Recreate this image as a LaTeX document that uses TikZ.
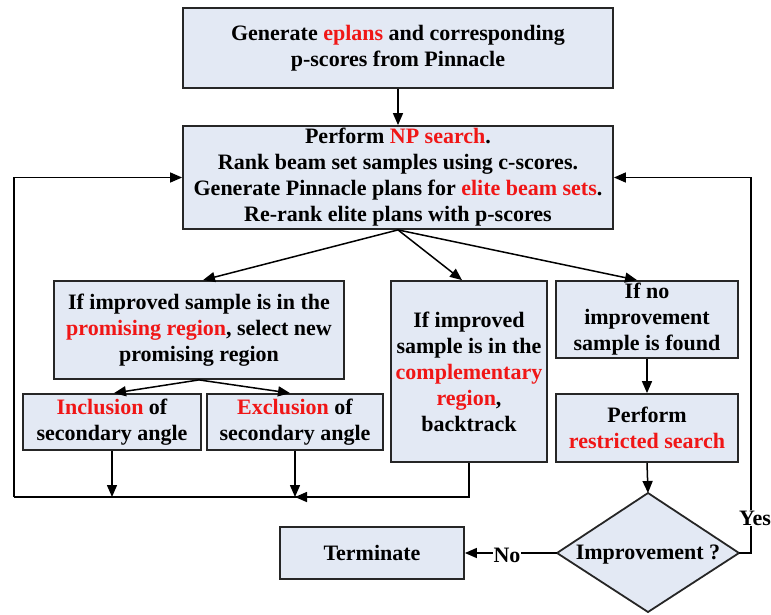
\documentclass[tikz,border=0pt]{standalone}
\usepackage{fontspec}
\setmainfont{Liberation Serif}
\usetikzlibrary{arrows.meta}
\definecolor{boxfill}{RGB}{227,233,244}
\definecolor{hl}{RGB}{240,22,22}
\newcommand{\hlt}[1]{\textcolor{hl}{#1}}
\begin{document}
\begin{tikzpicture}[x=1pt,y=-1pt,
  every node/.style={font=\fontsize{22}{26}\selectfont\bfseries},
  procbox/.style={draw=black!85, line width=1.8pt, fill=boxfill, inner sep=0pt, align=center},
  conn/.style={line width=1.5pt, draw=black},
  arr/.style={conn, -{Triangle[length=12pt,width=10pt]}},
  lab/.style={fill=white, inner sep=1pt}]
\useasboundingbox (0,0) rectangle (771,614);

\node[procbox, minimum width=430pt, minimum height=80pt] (top) at (398,48)
  {Generate \hlt{eplans} and corresponding\\p-scores from Pinnacle};
\node[procbox, minimum width=430pt, minimum height=103pt] (np) at (398,177.5)
  {Perform \hlt{NP search}.\\Rank beam set samples using c-scores.\\Generate Pinnacle plans for \hlt{elite beam sets}.\\Re-rank elite plans with p-scores};
\node[procbox, minimum width=290pt, minimum height=98pt] (prom) at (199,330)
  {If improved sample is in the\\\hlt{promising region}, select new\\promising region};
\node[procbox, minimum width=178pt, minimum height=56pt] (incl) at (112,422)
  {\hlt{Inclusion} of\\secondary angle};
\node[procbox, minimum width=176pt, minimum height=56pt] (excl) at (295,422)
  {\hlt{Exclusion} of\\secondary angle};
\node[procbox, minimum width=156pt, minimum height=181pt] (comp) at (469,371.5)
  {If improved\\sample is in the\\\hlt{complementary}\\\hlt{region},\\backtrack};
\node[procbox, minimum width=182pt, minimum height=77pt] (noimp) at (647,319.5)
  {If no\\improvement\\sample is found};
\node[procbox, minimum width=182pt, minimum height=68pt] (restr) at (647,428)
  {Perform\\\hlt{restricted search}};
\node[procbox, minimum width=184pt, minimum height=52pt] (term) at (372,553)
  {Terminate};

% decision diamond
\coordinate (dT) at (648,493);
\coordinate (dR) at (739,553);
\coordinate (dB) at (648,612);
\coordinate (dL) at (557,553);
\draw[draw=black!85, line width=1.8pt, fill=boxfill] (dT) -- (dR) -- (dB) -- (dL) -- cycle;
\node (dia) at (648,555) {Improvement ?};

% loop helper points
\coordinate (br) at (469,497);
\coordinate (bl) at (14,497);
\coordinate (rr) at (751,553);

% connectors
\draw[arr] (top.south) -- (np.north);
\draw[arr] (np.south) -- ([xshift=4pt]prom.north);
\draw[arr] (np.south) -- ([xshift=-7pt]comp.north);
\draw[arr] (np.south) -- ([xshift=-10pt]noimp.north);
\draw[arr] (prom.south) -- ([xshift=2pt]incl.north);
\draw[arr] (prom.south) -- ([xshift=-5pt]excl.north);
\draw[arr] (incl.south) -- (incl.south |- bl);
\draw[arr] (excl.south) -- (excl.south |- bl);
\draw[conn] (comp.south) -- (br) -- (bl);
\draw[arr] (br) -- (excl.south |- br);
\draw[arr] (bl) -- (bl |- np.west) -- (np.west);
\draw[arr] (noimp.south) -- (restr.north);
\draw[arr] (restr.south) -- (dT);
\draw[arr] (dR) -- (rr) -- (rr |- np.east) -- (np.east);
\draw[arr] (dL) -- (term.east);
\node[lab] (yes) at (755,518) {Yes};
\node[lab] (no) at (507,555) {No};
\end{tikzpicture}
\end{document}
